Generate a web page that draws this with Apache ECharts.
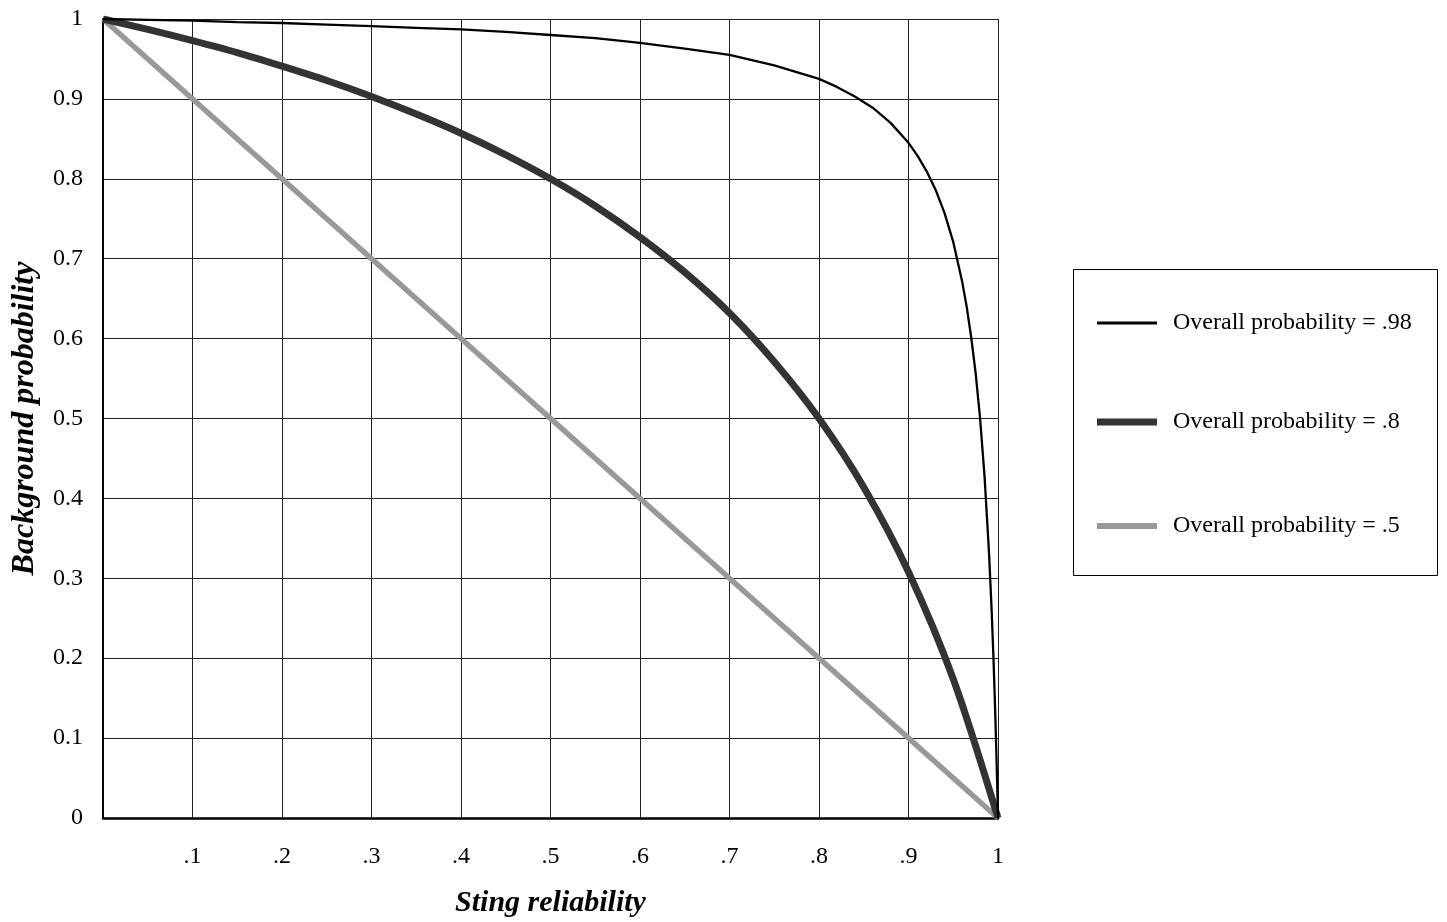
<!DOCTYPE html>
<html>
<head>
<meta charset="utf-8">
<script src="https://cdn.jsdelivr.net/npm/echarts@6/dist/echarts.min.js"></script>
<style>
html,body{margin:0;padding:0;background:#fff;}
#chart{width:1447px;height:922px;}
</style>
</head>
<body>
<div id="chart"></div>
<script>
// Sting reliability (x) values and background probability (y) values
const stingHigh = [0, 0.05, 0.1, 0.15, 0.2, 0.25, 0.3, 0.35, 0.4, 0.45, 0.5, 0.55, 0.6, 0.65, 0.7, 0.75, 0.8, 0.82, 0.84, 0.86, 0.88, 0.9, 0.91, 0.92, 0.93, 0.94, 0.95, 0.96, 0.965, 0.97, 0.975, 0.98, 0.985, 0.99, 0.993, 0.995, 0.997, 0.999, 1];
const bgHigh   = [1, 0.999, 0.998, 0.996, 0.995, 0.993, 0.991, 0.989, 0.987, 0.984, 0.980, 0.976, 0.970, 0.963, 0.955, 0.942, 0.925, 0.915, 0.903, 0.889, 0.870, 0.845, 0.829, 0.810, 0.787, 0.758, 0.721, 0.671, 0.640, 0.602, 0.557, 0.500, 0.427, 0.331, 0.257, 0.198, 0.129, 0.047, 0];

const stingMid = [0, 0.05, 0.1, 0.15, 0.2, 0.25, 0.3, 0.35, 0.4, 0.45, 0.5, 0.55, 0.6, 0.65, 0.7, 0.75, 0.8, 0.85, 0.9, 0.95, 1];
const bgMid    = [1, 0.987, 0.973, 0.958, 0.941, 0.923, 0.903, 0.881, 0.857, 0.830, 0.800, 0.766, 0.727, 0.683, 0.632, 0.571, 0.500, 0.414, 0.308, 0.174, 0];

const stingLow = [0, 0.5, 1];
const bgLow    = [1, 0.5, 0];

const seriesNames = ['Overall probability = .98', 'Overall probability = .8', 'Overall probability = .5'];
const xTickLabels = ['', '.1', '.2', '.3', '.4', '.5', '.6', '.7', '.8', '.9', '1'];
const yTickLabels = ['0', '0.1', '0.2', '0.3', '0.4', '0.5', '0.6', '0.7', '0.8', '0.9', '1'];

const zip = (xs, ys) => xs.map((x, i) => [x, ys[i]]);
const FONT = '"Liberation Serif", "Times New Roman", serif';

function legendFor(name, top, thickness) {
  return {
    orient: 'vertical', left: 1097, top: top,
    padding: 0, itemWidth: 60, itemHeight: thickness, icon: 'rect',
    textStyle: {fontFamily: FONT, fontSize: 24, color: '#000', padding: [0, 0, 0, 11]},
    data: [name]
  };
}

const chart = echarts.init(document.getElementById('chart'), null, {renderer: 'canvas'});
chart.setOption({
  animation: false,
  backgroundColor: '#ffffff',
  grid: {left: 103, right: 449, top: 19, bottom: 104, containLabel: false, outerBoundsMode: 'none'},
  xAxis: {
    type: 'value', min: 0, max: 1, interval: 0.1,
    name: 'Sting reliability', nameLocation: 'middle', nameGap: 70,
    nameTextStyle: {fontFamily: FONT, fontSize: 30, fontWeight: 'bold', fontStyle: 'italic', color: '#000'},
    axisLine: {show: true, onZero: false, lineStyle: {color: '#000', width: 2.5}},
    axisTick: {show: false},
    axisLabel: {
      margin: 27, fontFamily: FONT, fontSize: 24, color: '#000',
      formatter: v => xTickLabels[Math.round(v * 10)]
    },
    splitLine: {show: true, lineStyle: {color: '#222', width: 1}}
  },
  yAxis: {
    type: 'value', min: 0, max: 1, interval: 0.1,
    name: 'Background probability', nameLocation: 'middle', nameGap: 62, nameRotate: 90,
    nameTextStyle: {fontFamily: FONT, fontSize: 32, fontWeight: 'bold', fontStyle: 'italic', color: '#000'},
    axisLine: {show: true, onZero: false, lineStyle: {color: '#000', width: 2}},
    axisTick: {show: false},
    axisLabel: {
      margin: 20, fontFamily: FONT, fontSize: 24, color: '#000',
      formatter: v => yTickLabels[Math.round(v * 10)]
    },
    splitLine: {show: true, lineStyle: {color: '#222', width: 1}}
  },
  legend: [
    legendFor(seriesNames[0], 311, 3),
    legendFor(seriesNames[1], 410, 7),
    legendFor(seriesNames[2], 514, 6)
  ],
  graphic: [{
    type: 'rect', x: 0, y: 0,
    shape: {x: 1073.5, y: 269.5, width: 364, height: 306},
    style: {fill: 'none', stroke: '#000', lineWidth: 1}
  }],
  series: [
    {
      name: seriesNames[2], type: 'line', data: zip(stingLow, bgLow),
      showSymbol: false, symbol: 'none', z: 2,
      lineStyle: {color: '#999999', width: 5.5}, itemStyle: {color: '#999999'}
    },
    {
      name: seriesNames[1], type: 'line', data: zip(stingMid, bgMid),
      showSymbol: false, symbol: 'none', smooth: 0.3, z: 3,
      lineStyle: {color: '#333333', width: 7}, itemStyle: {color: '#333333'}
    },
    {
      name: seriesNames[0], type: 'line', data: zip(stingHigh, bgHigh),
      showSymbol: false, symbol: 'none', z: 4,
      lineStyle: {color: '#000000', width: 2.3}, itemStyle: {color: '#000000'}
    }
  ]
});
</script>
</body>
</html>
